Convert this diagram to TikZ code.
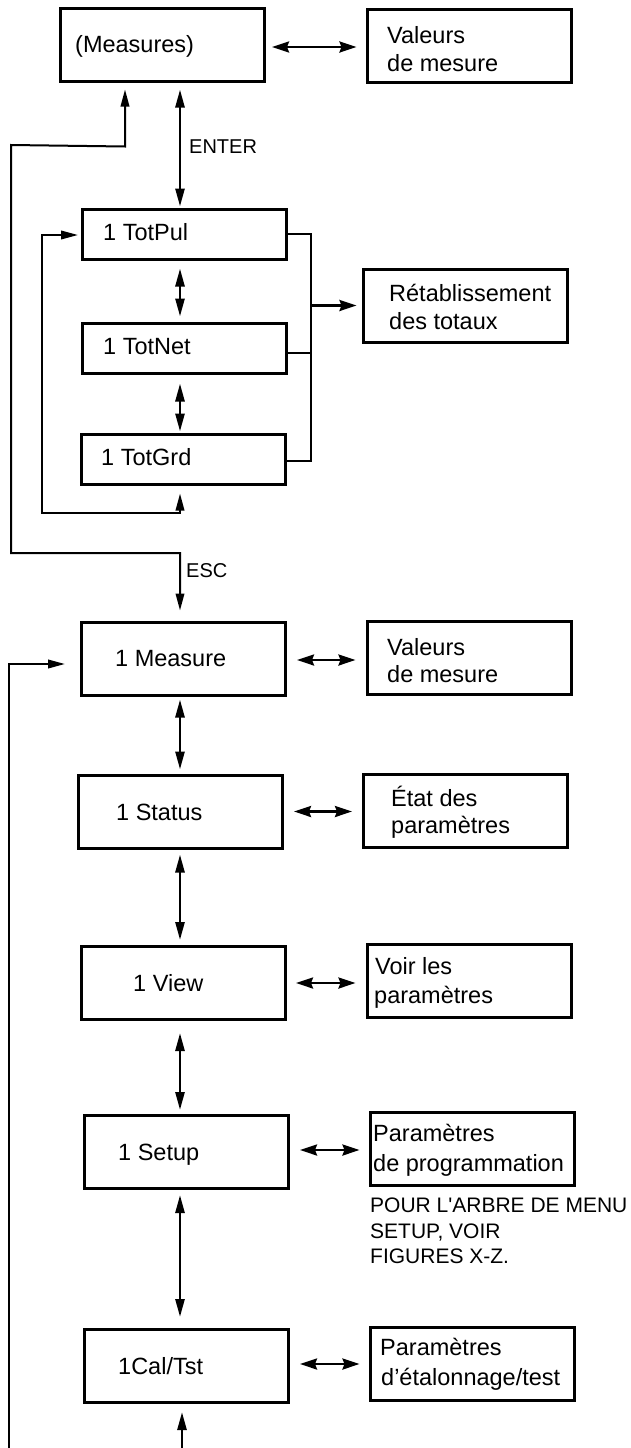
\documentclass[tikz,border=0pt]{standalone}
\usepackage{fontspec}
\setmainfont{Liberation Sans}[Ligatures=TeXOff]
\usetikzlibrary{arrows.meta,calc}
\begin{document}
\begin{tikzpicture}[x=1pt,y=-1pt,
  box/.style={draw, line width=3pt, minimum width=204pt, minimum height=73pt, inner sep=0pt},
  tbox/.style={box, minimum height=50pt},
  lbl/.style={anchor=base west, inner sep=0pt, font=\fontsize{23.5}{28}\selectfont},
  sml/.style={anchor=base west, inner sep=0pt, font=\fontsize{20}{24}\selectfont},
  note/.style={anchor=base west, inner sep=0pt, font=\fontsize{21}{26}\selectfont},
  conn/.style={line width=2.6pt},
  thinline/.style={line width=2pt},
  va/.style={conn, -{Triangle[length=18pt,width=9pt]}},
  vd/.style={conn, {Triangle[length=18pt,width=9pt]}-{Triangle[length=18pt,width=9pt]}},
  vdthin/.style={line width=2pt, {Triangle[length=17pt,width=8.5pt]}-{Triangle[length=17pt,width=8.5pt]}},
  ha/.style={conn, -{Stealth[length=17pt,width=11pt,inset=2pt]}},
  hd/.style={conn, {Stealth[length=17pt,width=11pt,inset=2pt]}-{Stealth[length=17pt,width=11pt,inset=2pt]}}
]
\useasboundingbox (0,0) rectangle (631,1448);

% ---- boxes ----
\node[box] (m0) at (162.5,44.5) {};
\node[box] (v0) at (469,45.5) {};
\node[tbox] (p1) at (184.5,234) {};
\node[tbox] (p2) at (184.5,348) {};
\node[tbox] (p3) at (183,459) {};
\node[box] (r) at (465,305.5) {};
\node[box] (m1) at (183.5,658.5) {};
\node[box] (v1) at (469,658) {};
\node[box] (s) at (180.5,811.5) {};
\node[box] (e) at (465.5,810.5) {};
\node[box] (w) at (183.5,983) {};
\node[box] (vl) at (469,980.5) {};
\node[box] (u) at (186.5,1152) {};
\node[box] (pp) at (472,1149) {};
\node[box] (c) at (186.5,1366) {};
\node[box] (pc) at (472,1363.5) {};

% ---- texts ----
\node[lbl] (m0t) at (75,52.5) {(Measures)};
\node[lbl] (v0a) at (387,43) {Valeurs};
\node[lbl] (v0b) at (387,71.5) {de mesure};
\node[lbl] (p1t) at (103,240) {1 TotPul};
\node[lbl] (p2t) at (103,354) {1 TotNet};
\node[lbl] (p3t) at (101,465) {1 TotGrd};
\node[lbl] (ra) at (389,301.7) {Rétablissement};
\node[lbl] (rb) at (389,329.3) {des totaux};
\node[lbl] (m1t) at (115,666) {1 Measure};
\node[lbl] (v1a) at (387,655) {Valeurs};
\node[lbl] (v1b) at (387,682.7) {de mesure};
\node[lbl] (st) at (116,820) {1 Status};
\node[lbl] (ea) at (391,806) {État des};
\node[lbl] (eb) at (391,833) {paramètres};
\node[lbl] (wt) at (133,991.7) {1 View};
\node[lbl] (vla) at (375,974) {Voir les};
\node[lbl] (vlb) at (374,1003) {paramètres};
\node[lbl] (ut) at (118,1160) {1 Setup};
\node[lbl] (ppa) at (373,1141) {Paramètres};
\node[lbl] (ppb) at (373,1171.7) {de programmation};
\node[note] (n1) at (370,1212) {POUR L'ARBRE DE MENU};
\node[note] (n2) at (370,1238) {SETUP, VOIR};
\node[note] (n3) at (370,1263) {FIGURES X-Z.};
\node[lbl] (ct) at (118,1374) {1Cal/Tst};
\node[lbl] (pca) at (380,1355) {Paramètres};
\node[lbl] (pcb) at (381,1385) {d’étalonnage/test};
\node[sml] (enter) at (189,153) {ENTER};
\node[sml] (esc) at (186,577) {ESC};

% ---- helper coordinates ----
\coordinate (ax) at (180,0);
\coordinate (bx) at (311,0);
\coordinate (lx) at (42,513);
\coordinate (ox) at (11,145);
\coordinate (oy) at (11,553);
\coordinate (bb) at (182,1448);
\coordinate (bl) at (9,1448);

% ---- horizontal double arrows ----
\draw[hd, shorten <=6pt, shorten >=9pt] ($(m0.east)+(0,2.5)$) -- ($(m0.east -| v0.west)+(0,2.5)$);
\draw[hd, shorten <=10pt, shorten >=10pt] ($(m1.east)+(0,1.5)$) -- ($(m1.east -| v1.west)+(0,1.5)$);
\draw[hd, shorten <=10pt, shorten >=10pt] (s.east) -- (s.east -| e.west);
\draw[hd, shorten <=9pt, shorten >=10pt] (w.east) -- (w.east -| vl.west);
\draw[hd, shorten <=10pt, shorten >=9pt] ($(u.east)+(0,-2)$) -- ($(u.east -| pp.west)+(0,-2)$);
\draw[hd, shorten <=10pt, shorten >=9pt] ($(c.east)+(0,-2)$) -- ($(c.east -| pc.west)+(0,-2)$);

% ---- vertical arrows ----
\draw[vd, shorten <=7pt, shorten >=1pt] (ax |- m0.south) -- (ax |- p1.north);
\draw[vd, shorten <=8pt, shorten >=5pt] (ax |- p1.south) -- (ax |- p2.north);
\draw[vd, shorten <=9pt, shorten >=1pt] (ax |- p2.south) -- (ax |- p3.north);
\draw[vd, shorten <=3pt, shorten >=4pt] (ax |- m1.south) -- (ax |- s.north);
\draw[vd, shorten <=5pt, shorten >=5pt] (ax |- s.south) -- (ax |- w.north);
\draw[vd, shorten <=12pt, shorten >=4pt] (ax |- w.south) -- (ax |- u.north);
\draw[vd, shorten <=5pt, shorten >=11pt] (ax |- u.south) -- (ax |- c.north);
\draw[va, shorten >=8pt] (bb) -- (bb |- c.south);

% ---- totals bracket ----
\draw[thinline] (p1.east) -- (bx |- p1.east) -- ($(bx |- p3.east)+(0,2)$) -- ($(p3.east)+(0,2)$);
\draw[thinline] ($(p2.east)+(0,5)$) -- ($(bx |- p2.east)+(0,5)$);
\draw[ha, shorten >=5pt] (bx |- r.west) -- (r.west);

% ---- totals loop ----
\draw[vdthin] ($(ax |- p3.south)+(0,8)$) -- (ax |- lx) -- (lx) |- ($(p1.west)+(-3,1)$);

% ---- ESC / return loop ----
\draw[vdthin] ($(m0.south)+(-37.5,7)$) -- ($(m0.south)+(-37.5,64)$) -- (ox) -- (oy) -- (ax |- oy) -- ($(ax |- m1.north)+(0,-10)$);

% ---- bottom return ----
\draw[line width=2.2pt, -{Triangle[length=17pt,width=8.5pt]}] (bl) |- ($(m1.west)+(-15,5.5)$);
\end{tikzpicture}
\end{document}
